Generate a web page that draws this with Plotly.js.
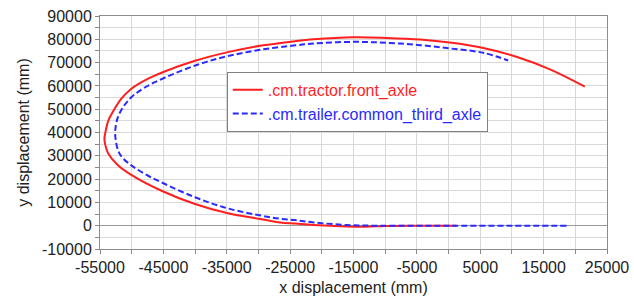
<!DOCTYPE html>
<html>
<head>
<meta charset="utf-8">
<script src="https://cdn.plot.ly/plotly-3.0.1.min.js"></script>
<style>html,body{margin:0;padding:0;background:#fff;}#chart{width:634px;height:303px;}</style>
</head>
<body>
<div id="chart"></div>
<script>
// Data (mm)
const tractorName = ".cm.tractor.front_axle";
const trailerName = ".cm.trailer.common_third_axle";

const tractorX = [1200, -5000, -10000, -13000, -16000, -21300, -24200, -26600, -29500, -34800, -40000, -45300, -50000, -52300, -53700, -54200, -54300, -54200, -53700, -52900, -51600, -50100, -47400, -44800, -40000, -34800, -29500, -24200, -21300, -15000, -9800, -4500, 500, 5500, 10700, 16000, 21500];
const tractorY = [0, 0, -100, -400, -300, 300, 900, 1400, 2800, 5300, 9300, 15000, 21700, 26300, 31000, 35000, 37500, 39300, 45000, 49200, 54600, 58700, 63100, 66200, 70800, 74500, 77300, 79200, 80000, 80900, 80600, 79900, 78500, 76300, 72500, 67100, 59700];

const trailerX = [18600, 10000, 0, -5000, -11300, -16100, -21300, -24200, -26600, -29500, -34800, -40000, -45300, -48000, -50000, -51400, -52100, -52500, -52600, -52200, -51400, -50100, -48000, -44800, -39500, -34800, -29500, -24200, -21300, -15000, -9800, -4500, 500, 5500, 9400];
const trailerY = [0, 0, 0, 0, 0, 300, 1400, 2400, 3000, 4300, 7400, 12200, 18600, 22300, 25800, 29000, 32000, 36400, 40700, 46400, 50700, 55000, 59200, 63500, 69200, 72800, 75600, 77400, 78200, 78900, 78500, 77500, 76000, 74200, 70900];

const xTickVals = [-55000, -45000, -35000, -25000, -15000, -5000, 5000, 15000, 25000];
const xTickText = ["-55000", "-45000", "-35000", "-25000", "-15000", "-5000", "5000", "15000", "25000"];
const yTickVals = [-10000, 0, 10000, 20000, 30000, 40000, 50000, 60000, 70000, 80000, 90000];
const yTickText = ["-10000", "0", "10000", "20000", "30000", "40000", "50000", "60000", "70000", "80000", "90000"];

const xTitle = "x displacement (mm)";
const yTitle = "y displacement (mm)";

const font = "Liberation Sans, Arial, sans-serif";

const traces = [
  {
    x: tractorX, y: tractorY, type: "scatter", mode: "lines",
    name: '<span style="color:#ff1f1f">' + tractorName + '</span>',
    line: {color: "#ff1f1f", width: 2, shape: "spline", smoothing: 1}
  },
  {
    x: trailerX, y: trailerY, type: "scatter", mode: "lines",
    name: '<span style="color:#2a2aff">' + trailerName + '</span>',
    line: {color: "#2a2aff", width: 2, dash: "6px,3px", shape: "spline", smoothing: 1}
  }
];

const layout = {
  width: 634, height: 303,
  margin: {l: 100, r: 27, t: 16, b: 54},
  paper_bgcolor: "#fff", plot_bgcolor: "#fff",
  font: {family: font, size: 16, color: "#222"},
  showlegend: true,
  legend: {
    x: 0.25, y: 0.632, xanchor: "left", yanchor: "middle",
    bgcolor: "#fff", bordercolor: "#808080", borderwidth: 1,
    font: {family: font, size: 16}, tracegroupgap: 0, itemwidth: 30
  },
  xaxis: {
    range: [-55000, 25000], tickvals: xTickVals, ticktext: xTickText,
    showgrid: true, gridcolor: "#d9d9d9", gridwidth: 1,
    minor: {dtick: 5000, tick0: -55000, showgrid: true, gridcolor: "#d9d9d9", ticks: "outside", ticklen: 4, tickcolor: "#888"},
    ticks: "outside", ticklen: 4, tickcolor: "#888",
    showline: true, linecolor: "#8c8c8c", linewidth: 1, mirror: true,
    zeroline: false,
    tickfont: {family: font, size: 16, color: "#222"},
    title: {text: xTitle, font: {family: font, size: 16, color: "#222"}, standoff: 6}
  },
  yaxis: {
    range: [-10000, 90000], tickvals: yTickVals, ticktext: yTickText,
    showgrid: true, gridcolor: "#d9d9d9", gridwidth: 1,
    minor: {dtick: 5000, tick0: -10000, showgrid: true, gridcolor: "#d9d9d9", ticks: "outside", ticklen: 4, tickcolor: "#888"},
    ticks: "outside", ticklen: 4, tickcolor: "#888",
    showline: true, linecolor: "#8c8c8c", linewidth: 1, mirror: true,
    zeroline: true, zerolinecolor: "#999", zerolinewidth: 1.5,
    tickfont: {family: font, size: 16, color: "#222"},
    title: {text: yTitle, font: {family: font, size: 16, color: "#222"}, standoff: 8}
  }
};

Plotly.newPlot("chart", traces, layout, {staticPlot: true, displayModeBar: false});
</script>
</body>
</html>
